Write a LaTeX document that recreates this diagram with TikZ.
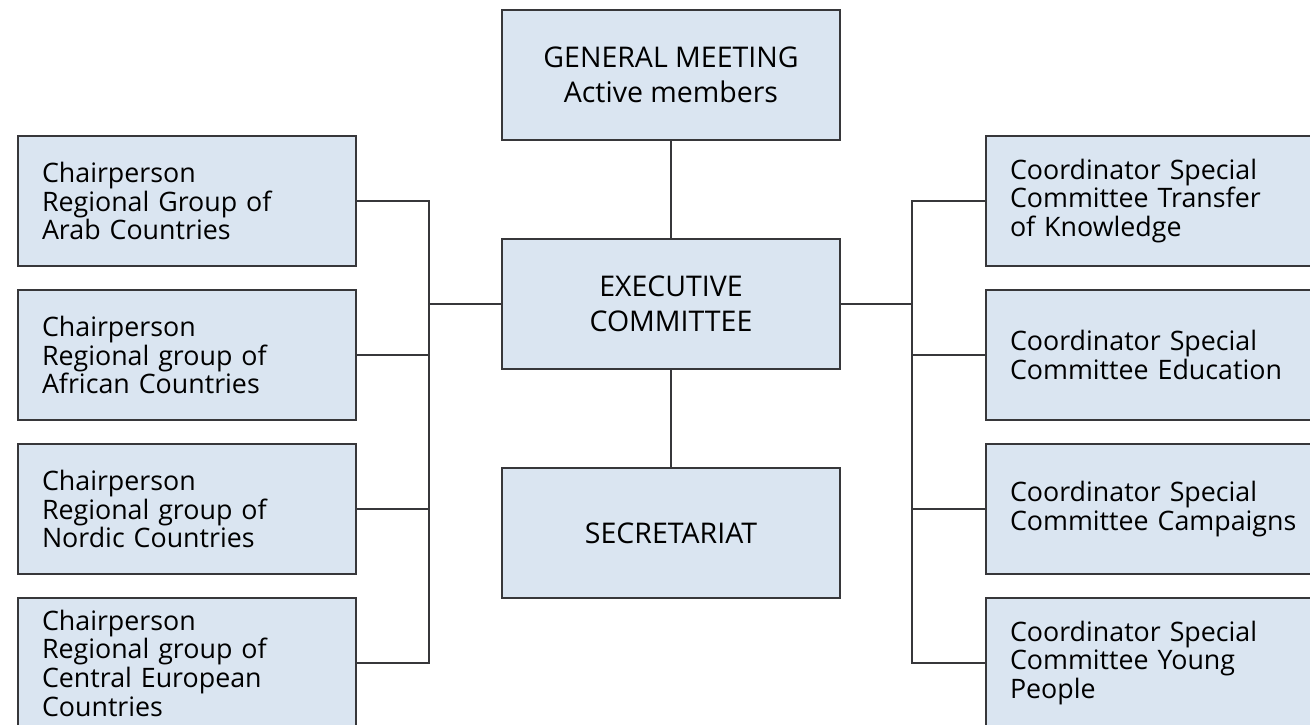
\documentclass[tikz,border=0pt]{standalone}
\usepackage{fontspec}
\setmainfont{Open Sans}
\begin{document}
\begin{tikzpicture}[x=1pt,y=-1pt,
  box/.style={draw=linegray, line width=1.6pt, fill=boxblue, minimum width=338pt, minimum height=130pt, inner sep=0pt},
  sidebox/.style={box, text width=290pt, align=left, inner xsep=24pt, font=\fontsize{26.8}{28.7}\selectfont},
  midbox/.style={box, align=center, font=\fontsize{28.5}{35}\selectfont},
  conn/.style={draw=linegray, line width=1.5pt}]
\definecolor{boxblue}{RGB}{218,229,241}
\definecolor{linegray}{RGB}{55,55,58}
\useasboundingbox (0,0) rectangle (1310,724);
\clip (0,0) rectangle (1310,724);
\node[midbox] (GM) at (671,75) {GENERAL MEETING\\Active members};
\node[midbox] (EC) at (671,304) {EXECUTIVE\\COMMITTEE};
\node[midbox] (SE) at (671,533) {SECRETARIAT};
\node[sidebox] (L1) at (187,201) {Chairperson\\Regional Group of\\Arab Countries};
\node[sidebox] (L2) at (187,355) {Chairperson\\Regional group of\\African Countries};
\node[sidebox] (L3) at (187,509) {Chairperson\\Regional group of\\Nordic Countries};
\node[sidebox] (L4) at (187,663) {Chairperson\\Regional group of\\Central European\\Countries};
\node[sidebox] (R1) at (1155,201) {Coordinator Special\\Committee Transfer\\of Knowledge};
\node[sidebox] (R2) at (1155,355) {Coordinator Special\\Committee Education};
\node[sidebox] (R3) at (1155,509) {Coordinator Special\\Committee Campaigns};
\node[sidebox] (R4) at (1155,663) {Coordinator Special\\Committee Young\\People};
\coordinate (BL) at (429,0);
\coordinate (BR) at (912,0);
\draw[conn] (GM) -- (EC);
\draw[conn] (EC) -- (SE);
\draw[conn] (L1.east) -- (L1.east -| BL) |- (L4.east);
\draw[conn] (L2.east) -- (L2.east -| BL);
\draw[conn] (L3.east) -- (L3.east -| BL);
\draw[conn] (EC.west) -- (EC.west -| BL);
\draw[conn] (R1.west) -- (R1.west -| BR) |- (R4.west);
\draw[conn] (R2.west) -- (R2.west -| BR);
\draw[conn] (R3.west) -- (R3.west -| BR);
\draw[conn] (EC.east) -- (EC.east -| BR);
\end{tikzpicture}
\end{document}
